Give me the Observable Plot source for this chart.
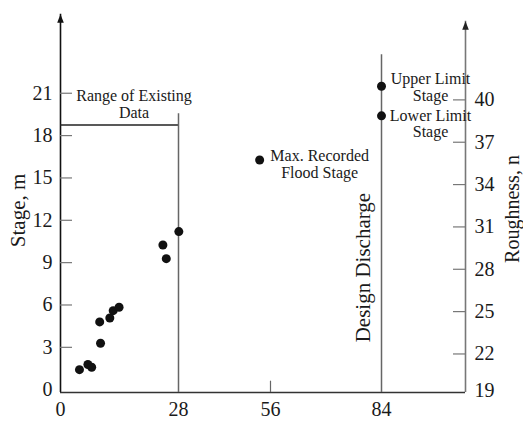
<!DOCTYPE html>
<html><head><meta charset="utf-8">
<script src="https://cdn.jsdelivr.net/npm/d3@7"></script>
<script src="https://cdn.jsdelivr.net/npm/@observablehq/plot@0.6"></script>
<style>body{margin:0;background:#fff} svg{display:block}</style>
</head><body><div id="chart"></div>
<script>
// Observed stage / discharge data
const discharge = [4.5, 6.5, 7.4, 9.5, 9.3, 11.7, 12.5, 13.9, 24.3, 25.1, 28.1];
const stage     = [1.42, 1.78, 1.59, 3.29, 4.8, 5.08, 5.6, 5.84, 10.25, 9.28, 11.2];

// Key annotated points
const keyLabels    = ["Max. Recorded\nFlood Stage", "Upper Limit\nStage", "Lower Limit\nStage"];
const keyDischarge = [52.7, 84, 84];
const keyStage     = [16.27, 21.5, 19.4];
const keyDx        = [60, 49, 49];
const keyDy        = [4, 1, 8];

// Axes
const stageTicks     = [0, 3, 6, 9, 12, 15, 18, 21];
const roughnessTicks = [19, 22, 25, 28, 31, 34, 37, 40];
const dischargeTicks = [0, 28, 56, 84];
const roughnessOffset = 19.47;

// Reference lines
const rangeDischarge = 28, rangeStage = 18.75, rangeLineTop = 19.55;
const designDischarge = 84, designLineTop = 23.73;
const xMax = 105, yMin = -0.2, leftAxisTop = 26.6, rightAxisTop = 26.1;

const font = "Liberation Serif, Times New Roman, serif";
const ink = "#1a1a1a";
const arrowHead = {draw(ctx) { ctx.moveTo(0, 0); ctx.lineTo(3.3, 8.6); ctx.lineTo(-3.3, 8.6); ctx.closePath(); }};

const pts = discharge.map((d, i) => ({x: d, y: stage[i]}));
const keys = keyLabels.map((t, i) => ({t, x: keyDischarge[i], y: keyStage[i], dx: keyDx[i], dy: keyDy[i]}));

const chart = Plot.plot({
  width: 523, height: 421,
  marginLeft: 60, marginRight: 58, marginTop: 1, marginBottom: 29,
  style: {fontFamily: font, background: "#fff", color: ink},
  x: {type: "linear", axis: null, domain: [0, 28, 56, 84, xMax], range: [60, 178, 270, 381, 465]},
  y: {type: "linear", axis: null, domain: [yMin, 27.5]},
  marks: [
    // left axis
    Plot.ruleX([0], {y1: yMin, y2: leftAxisTop, stroke: "#111", strokeWidth: 1.6}),
    Plot.dot([0], {x: d => d, y: leftAxisTop, symbol: arrowHead, fill: "#111", stroke: "none"}),
    // right axis
    Plot.ruleX([xMax], {y1: yMin, y2: rightAxisTop, stroke: "#777", strokeWidth: 1.6}),
    Plot.dot([xMax], {x: d => d, y: rightAxisTop, symbol: arrowHead, fill: "#222", stroke: "none"}),
    // bottom axis
    Plot.ruleY([yMin], {x1: 0, x2: xMax, stroke: "#333", strokeWidth: 1.5}),
    // tick marks (inward)
    Plot.ruleY(stageTicks.slice(1), {y: d => d, x1: 0, x2: 2.85, stroke: "#777", strokeWidth: 1.2}),
    Plot.ruleY(roughnessTicks.slice(1), {y: d => d - roughnessOffset, x1: xMax - 3, x2: xMax, stroke: "#777", strokeWidth: 1.2}),
    Plot.ruleX([56], {x: d => d, y1: yMin, y2: 0.6, stroke: "#666", strokeWidth: 1.2}),
    // tick labels
    Plot.text(stageTicks, {x: 0, y: d => d, text: d => String(d), textAnchor: "end", dx: -8, fontSize: 20, fill: ink}),
    Plot.text(roughnessTicks, {x: xMax, y: d => Math.max(d - roughnessOffset, -0.1), text: d => String(d), textAnchor: "start", dx: 9, fontSize: 20, fill: ink}),
    Plot.text(dischargeTicks, {x: d => d, y: yMin, text: d => String(d), dy: 17, fontSize: 20, fill: ink}),
    // axis titles
    Plot.text(["Stage, m"], {x: 0, y: 12.7, dx: -42, rotate: -90, fontSize: 21, fill: ink}),
    Plot.text(["Roughness, n"], {x: xMax, y: 12.8, dx: 47, rotate: -90, fontSize: 20, fill: ink}),
    // range of existing data
    Plot.ruleY([rangeStage], {x1: 0, x2: rangeDischarge, stroke: "#222", strokeWidth: 1.3}),
    Plot.ruleX([rangeDischarge], {y1: yMin, y2: rangeLineTop, stroke: "#666", strokeWidth: 1.5}),
    Plot.text(["Range of Existing\nData"], {x: rangeDischarge / 2, y: rangeStage, dx: 14.5, dy: -21, fontSize: 16, lineHeight: 1.03, fill: ink}),
    // design discharge
    Plot.ruleX([designDischarge], {y1: yMin, y2: designLineTop, stroke: "#666", strokeWidth: 1.5}),
    Plot.text(["Design Discharge"], {x: designDischarge, y: 8.65, dx: -18, rotate: -90, fontSize: 21, fill: ink}),
    // data points
    Plot.dot(pts, {x: "x", y: "y", r: 4.5, fill: "#111", stroke: "none"}),
    Plot.dot(keys, {x: "x", y: "y", r: 4.5, fill: "#111", stroke: "none"}),
    ...keys.map(k => Plot.text([k], {x: "x", y: "y", text: "t", dx: k.dx, dy: k.dy, fontSize: 16, lineHeight: 1.03, fill: ink}))
  ]
});
document.getElementById("chart").appendChild(chart);
</script></body></html>
